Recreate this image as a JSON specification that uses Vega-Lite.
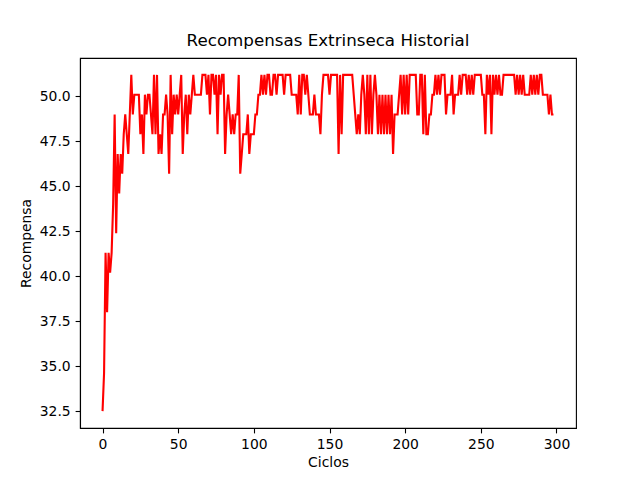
{
  "$schema": "https://vega.github.io/schema/vega-lite/v6.json",
  "autosize": {"type": "none"},
  "width": 496,
  "height": 370,
  "padding": {"left": 80, "top": 58, "right": 64, "bottom": 52},
  "background": "white",
  "title": {"text": "Recompensas Extrinseca Historial", "font": "DejaVu Sans", "fontSize": 16.7, "fontWeight": "normal", "color": "black", "offset": 8},
  "config": {
    "view": {"stroke": "black", "strokeWidth": 1.1},
    "axis": {"grid": false, "domainColor": "black", "domainWidth": 1.1, "tickColor": "black", "tickWidth": 1.1, "tickSize": 4.9, "labelFont": "DejaVu Sans", "labelFontSize": 13.9, "labelColor": "black", "labelPadding": 4.9, "titleFont": "DejaVu Sans", "titleFontSize": 13.9, "titleFontWeight": "normal", "titleColor": "black"}
  },
  "data": {"values": [
{"c":0,"r":32.5},{"c":1,"r":34.6},{"c":2,"r":41.3},{"c":3,"r":38.0},{"c":4,"r":41.3},{"c":5,"r":40.2},{"c":6,"r":41.3},{"c":7,"r":44.0},{"c":8,"r":49.0},{"c":9,"r":42.4},
{"c":10,"r":46.8},{"c":11,"r":44.6},{"c":12,"r":46.8},{"c":13,"r":45.7},{"c":14,"r":47.9},{"c":15,"r":49.0},{"c":16,"r":47.9},{"c":17,"r":46.8},{"c":18,"r":49.0},{"c":19,"r":51.2},
{"c":20,"r":49.0},{"c":21,"r":50.1},{"c":22,"r":50.1},{"c":23,"r":50.1},{"c":24,"r":50.1},{"c":25,"r":47.9},{"c":26,"r":49.0},{"c":27,"r":46.8},{"c":28,"r":50.1},{"c":29,"r":49.0},
{"c":30,"r":50.1},{"c":31,"r":50.1},{"c":32,"r":49.0},{"c":33,"r":47.9},{"c":34,"r":51.2},{"c":35,"r":47.9},{"c":36,"r":51.2},{"c":37,"r":46.8},{"c":38,"r":47.9},{"c":39,"r":46.8},
{"c":40,"r":49.0},{"c":41,"r":49.0},{"c":42,"r":50.1},{"c":43,"r":49.0},{"c":44,"r":45.7},{"c":45,"r":51.2},{"c":46,"r":47.9},{"c":47,"r":50.1},{"c":48,"r":49.0},{"c":49,"r":50.1},
{"c":50,"r":49.0},{"c":51,"r":50.1},{"c":52,"r":51.2},{"c":53,"r":46.8},{"c":54,"r":49.0},{"c":55,"r":50.1},{"c":56,"r":47.9},{"c":57,"r":50.1},{"c":58,"r":49.0},{"c":59,"r":50.1},
{"c":60,"r":51.2},{"c":61,"r":50.1},{"c":62,"r":50.1},{"c":63,"r":50.1},{"c":64,"r":50.1},{"c":65,"r":50.1},{"c":66,"r":51.2},{"c":67,"r":51.2},{"c":68,"r":51.2},{"c":69,"r":50.1},
{"c":70,"r":51.2},{"c":71,"r":49.0},{"c":72,"r":51.2},{"c":73,"r":51.2},{"c":74,"r":50.1},{"c":75,"r":51.2},{"c":76,"r":47.9},{"c":77,"r":51.2},{"c":78,"r":50.1},{"c":79,"r":51.2},
{"c":80,"r":51.2},{"c":81,"r":46.8},{"c":82,"r":49.0},{"c":83,"r":50.1},{"c":84,"r":49.0},{"c":85,"r":47.9},{"c":86,"r":49.0},{"c":87,"r":47.9},{"c":88,"r":49.0},{"c":89,"r":49.0},
{"c":90,"r":51.2},{"c":91,"r":45.7},{"c":92,"r":46.8},{"c":93,"r":47.9},{"c":94,"r":47.9},{"c":95,"r":47.9},{"c":96,"r":49.0},{"c":97,"r":46.8},{"c":98,"r":47.9},{"c":99,"r":47.9},
{"c":100,"r":47.9},{"c":101,"r":49.0},{"c":102,"r":49.0},{"c":103,"r":50.1},{"c":104,"r":50.1},{"c":105,"r":51.2},{"c":106,"r":50.1},{"c":107,"r":51.2},{"c":108,"r":50.1},{"c":109,"r":51.2},
{"c":110,"r":51.2},{"c":111,"r":50.1},{"c":112,"r":50.1},{"c":113,"r":51.2},{"c":114,"r":51.2},{"c":115,"r":50.1},{"c":116,"r":51.2},{"c":117,"r":51.2},{"c":118,"r":51.2},{"c":119,"r":51.2},
{"c":120,"r":50.1},{"c":121,"r":51.2},{"c":122,"r":51.2},{"c":123,"r":51.2},{"c":124,"r":51.2},{"c":125,"r":50.1},{"c":126,"r":50.1},{"c":127,"r":50.1},{"c":128,"r":50.1},{"c":129,"r":49.0},
{"c":130,"r":51.2},{"c":131,"r":49.0},{"c":132,"r":51.2},{"c":133,"r":51.2},{"c":134,"r":50.1},{"c":135,"r":51.2},{"c":136,"r":50.1},{"c":137,"r":49.0},{"c":138,"r":49.0},{"c":139,"r":49.0},
{"c":140,"r":50.1},{"c":141,"r":49.0},{"c":142,"r":49.0},{"c":143,"r":49.0},{"c":144,"r":47.9},{"c":145,"r":50.1},{"c":146,"r":51.2},{"c":147,"r":51.2},{"c":148,"r":51.2},{"c":149,"r":51.2},
{"c":150,"r":50.1},{"c":151,"r":51.2},{"c":152,"r":51.2},{"c":153,"r":51.2},{"c":154,"r":51.2},{"c":155,"r":51.2},{"c":156,"r":46.8},{"c":157,"r":51.2},{"c":158,"r":47.9},{"c":159,"r":51.2},
{"c":160,"r":51.2},{"c":161,"r":51.2},{"c":162,"r":51.2},{"c":163,"r":51.2},{"c":164,"r":51.2},{"c":165,"r":51.2},{"c":166,"r":50.1},{"c":167,"r":49.0},{"c":168,"r":47.9},{"c":169,"r":49.0},
{"c":170,"r":47.9},{"c":171,"r":50.1},{"c":172,"r":51.2},{"c":173,"r":50.1},{"c":174,"r":47.9},{"c":175,"r":51.2},{"c":176,"r":47.9},{"c":177,"r":51.2},{"c":178,"r":47.9},{"c":179,"r":50.1},
{"c":180,"r":51.2},{"c":181,"r":50.1},{"c":182,"r":47.9},{"c":183,"r":50.1},{"c":184,"r":47.9},{"c":185,"r":50.1},{"c":186,"r":47.9},{"c":187,"r":50.1},{"c":188,"r":47.9},{"c":189,"r":50.1},
{"c":190,"r":47.9},{"c":191,"r":50.1},{"c":192,"r":46.8},{"c":193,"r":49.0},{"c":194,"r":49.0},{"c":195,"r":49.0},{"c":196,"r":50.1},{"c":197,"r":51.2},{"c":198,"r":49.0},{"c":199,"r":51.2},
{"c":200,"r":49.0},{"c":201,"r":51.2},{"c":202,"r":49.0},{"c":203,"r":51.2},{"c":204,"r":51.2},{"c":205,"r":51.2},{"c":206,"r":51.2},{"c":207,"r":51.2},{"c":208,"r":49.0},{"c":209,"r":49.0},
{"c":210,"r":51.2},{"c":211,"r":51.2},{"c":212,"r":47.9},{"c":213,"r":51.2},{"c":214,"r":47.9},{"c":215,"r":47.9},{"c":216,"r":49.0},{"c":217,"r":49.0},{"c":218,"r":50.1},{"c":219,"r":50.1},
{"c":220,"r":51.2},{"c":221,"r":50.1},{"c":222,"r":51.2},{"c":223,"r":50.1},{"c":224,"r":51.2},{"c":225,"r":51.2},{"c":226,"r":51.2},{"c":227,"r":49.0},{"c":228,"r":50.1},{"c":229,"r":50.1},
{"c":230,"r":50.1},{"c":231,"r":51.2},{"c":232,"r":49.0},{"c":233,"r":50.1},{"c":234,"r":50.1},{"c":235,"r":50.1},{"c":236,"r":51.2},{"c":237,"r":50.1},{"c":238,"r":51.2},{"c":239,"r":51.2},
{"c":240,"r":51.2},{"c":241,"r":50.1},{"c":242,"r":51.2},{"c":243,"r":50.1},{"c":244,"r":51.2},{"c":245,"r":50.1},{"c":246,"r":51.2},{"c":247,"r":51.2},{"c":248,"r":51.2},{"c":249,"r":51.2},
{"c":250,"r":51.2},{"c":251,"r":50.1},{"c":252,"r":50.1},{"c":253,"r":47.9},{"c":254,"r":51.2},{"c":255,"r":50.1},{"c":256,"r":51.2},{"c":257,"r":47.9},{"c":258,"r":51.2},{"c":259,"r":50.1},
{"c":260,"r":51.2},{"c":261,"r":50.1},{"c":262,"r":51.2},{"c":263,"r":50.1},{"c":264,"r":50.1},{"c":265,"r":51.2},{"c":266,"r":51.2},{"c":267,"r":51.2},{"c":268,"r":51.2},{"c":269,"r":51.2},
{"c":270,"r":51.2},{"c":271,"r":51.2},{"c":272,"r":51.2},{"c":273,"r":50.1},{"c":274,"r":51.2},{"c":275,"r":50.1},{"c":276,"r":51.2},{"c":277,"r":50.1},{"c":278,"r":51.2},{"c":279,"r":50.1},
{"c":280,"r":50.1},{"c":281,"r":50.1},{"c":282,"r":50.1},{"c":283,"r":51.2},{"c":284,"r":50.1},{"c":285,"r":51.2},{"c":286,"r":50.1},{"c":287,"r":51.2},{"c":288,"r":50.1},{"c":289,"r":51.2},
{"c":290,"r":51.2},{"c":291,"r":50.1},{"c":292,"r":50.1},{"c":293,"r":50.1},{"c":294,"r":50.1},{"c":295,"r":49.0},{"c":296,"r":50.1},{"c":297,"r":49.0},{"c":298,"r":49.0}
  ]},
  "mark": {"type": "line", "color": "red", "strokeWidth": 2.1, "clip": true},
  "encoding": {
    "x": {"field": "c", "type": "quantitative", "title": "Ciclos",
      "scale": {"domain": [-14.9, 312.9], "nice": false, "zero": false},
      "axis": {"values": [0, 50, 100, 150, 200, 250, 300], "titlePadding": 4}},
    "y": {"field": "r", "type": "quantitative", "title": "Recompensa",
      "scale": {"domain": [31.56, 52.14], "nice": false, "zero": false},
      "axis": {"values": [32.5, 35, 37.5, 40, 42.5, 45, 47.5, 50], "format": ".1f", "titlePadding": 6}}
  }
}
